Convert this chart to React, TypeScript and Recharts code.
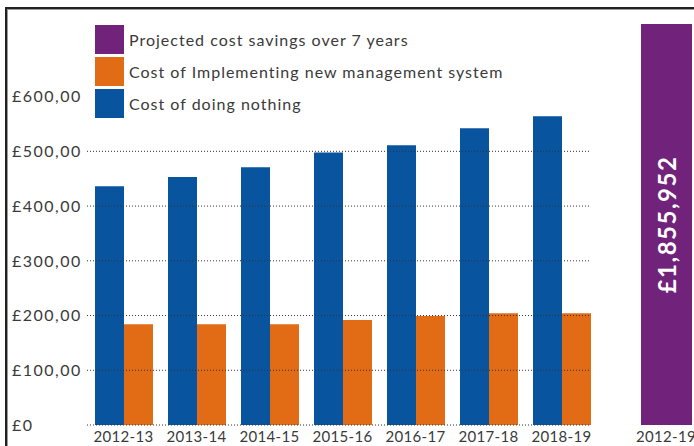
import React from 'react';
import { BarChart, Bar, XAxis, YAxis, ReferenceLine } from 'recharts';

const categories = ['2012-13', '2013-14', '2014-15', '2015-16', '2016-17', '2017-18', '2018-19'];
const costOfDoingNothing = [436, 453, 471, 498, 511, 542, 564];
const costOfImplementing = [184, 184, 184, 192, 199, 204, 204];
const yTicks = [0, 100, 200, 300, 400, 500, 600];
const gridValues = [0, 100, 200, 300, 400, 500];

const savingsCategories = ['2012-19'];
const savingsTotals = [1855952];

const legendLabels = [
    'Projected cost savings over 7 years',
    'Cost of Implementing new management system',
    'Cost of doing nothing',
];
const legendColors = ['#71237c', '#e26b16', '#08549f'];

const BLUE = '#08549f';
const ORANGE = '#e26b16';
const PURPLE = '#71237c';
const TEXT = '#3a3a3a';
const FONT = 'Lato, "Open Sans", sans-serif';

const mainData = categories.map((name, i) => ({
    name,
    nothing: costOfDoingNothing[i],
    implementing: costOfImplementing[i],
}));

const savingsData = savingsCategories.map((name, i) => ({ name, total: savingsTotals[i] }));

const formatPounds = (v: number) => (v === 0 ? '£0' : `£${v},00`);

const YTick = (props: any) => (
    <text x={12} y={props.y} dy="0.36em" textAnchor="start" fill={TEXT} fontFamily={FONT} fontSize={16} letterSpacing={1.5}>
        {formatPounds(props.payload.value)}
    </text>
);

const XTick = (props: any) => (
    <text x={props.x} y={props.y} dy={17} textAnchor="middle" fill={TEXT} fontFamily={FONT} fontSize={15} letterSpacing={0.3}>
        {props.payload.value}
    </text>
);

const LegendBox = () => (
    <div style={{ position: 'absolute', left: 95, top: 25 }}>
        {legendLabels.map((label, i) => (
            <div key={label} style={{ display: 'flex', alignItems: 'center', height: 29, marginBottom: 3 }}>
                <div style={{ width: 29, height: 29, background: legendColors[i], marginRight: 5 }} />
                <span style={{ fontFamily: FONT, fontSize: 16, color: TEXT, letterSpacing: 1.0, whiteSpace: 'nowrap' }}>{label}</span>
            </div>
        ))}
    </div>
);

const TotalLabel = (props: any) => {
    const { x, y, width, height, value } = props;
    const cx = x + width / 2;
    const cy = y + height / 2;
    return (
        <text
            x={cx}
            y={cy}
            transform={`rotate(-90 ${cx} ${cy})`}
            textAnchor="middle"
            dominantBaseline="central"
            fill="#fff"
            fontFamily={FONT}
            fontWeight={700}
            fontSize={24}
            letterSpacing={1.5}
        >
            {`£${Number(value).toLocaleString('en-GB')}`}
        </text>
    );
};

export default function App() {
    return (
        <div style={{ position: 'absolute', left: 0, top: 0, width: 694, height: 446, overflow: 'hidden', background: '#fff' }}>
            <div
                style={{
                    position: 'absolute', left: 5, top: 7, width: 720, height: 460,
                    borderLeft: '2px solid #222', borderTop: '2px solid #222',
                    boxShadow: 'inset 1px 1px 0 #999',
                }}
            />
            <div style={{ position: 'absolute', left: 0, top: 0 }}>
                <BarChart width={600} height={446} data={mainData} margin={{ top: 96.6, right: 9, bottom: 0, left: 7 }} barGap={0}>
                    <XAxis dataKey="name" axisLine={false} tickLine={false} tickSize={0} tickMargin={0} height={21} tick={<XTick />} interval={0} padding={{ left: 0, right: -7 }} />
                    <YAxis domain={[0, 600]} ticks={yTicks} axisLine={false} tickLine={false} width={80} tick={<YTick />} interval={0} />
                    <Bar dataKey="nothing" name="Cost of doing nothing" fill={BLUE} barSize={29} isAnimationActive={false} />
                    <Bar dataKey="implementing" name="Cost of Implementing new management system" fill={ORANGE} barSize={29} isAnimationActive={false} />
                    {gridValues.map(v => (
                        <ReferenceLine key={v} y={v} stroke="#333" strokeDasharray="1 2" />
                    ))}
                </BarChart>
            </div>
            <div style={{ position: 'absolute', left: 616, top: 0 }}>
                <BarChart width={100} height={446} data={savingsData} margin={{ top: 24, right: 0, bottom: 0, left: 0 }}>
                    <XAxis dataKey="name" axisLine={false} tickLine={false} tickSize={0} tickMargin={0} height={21} tick={<XTick />} />
                    <YAxis hide domain={[0, savingsTotals[0]]} />
                    <Bar dataKey="total" name="Projected cost savings over 7 years" fill={PURPLE} barSize={51} isAnimationActive={false} label={<TotalLabel />} />
                </BarChart>
            </div>
            <LegendBox />
        </div>
    );
}
